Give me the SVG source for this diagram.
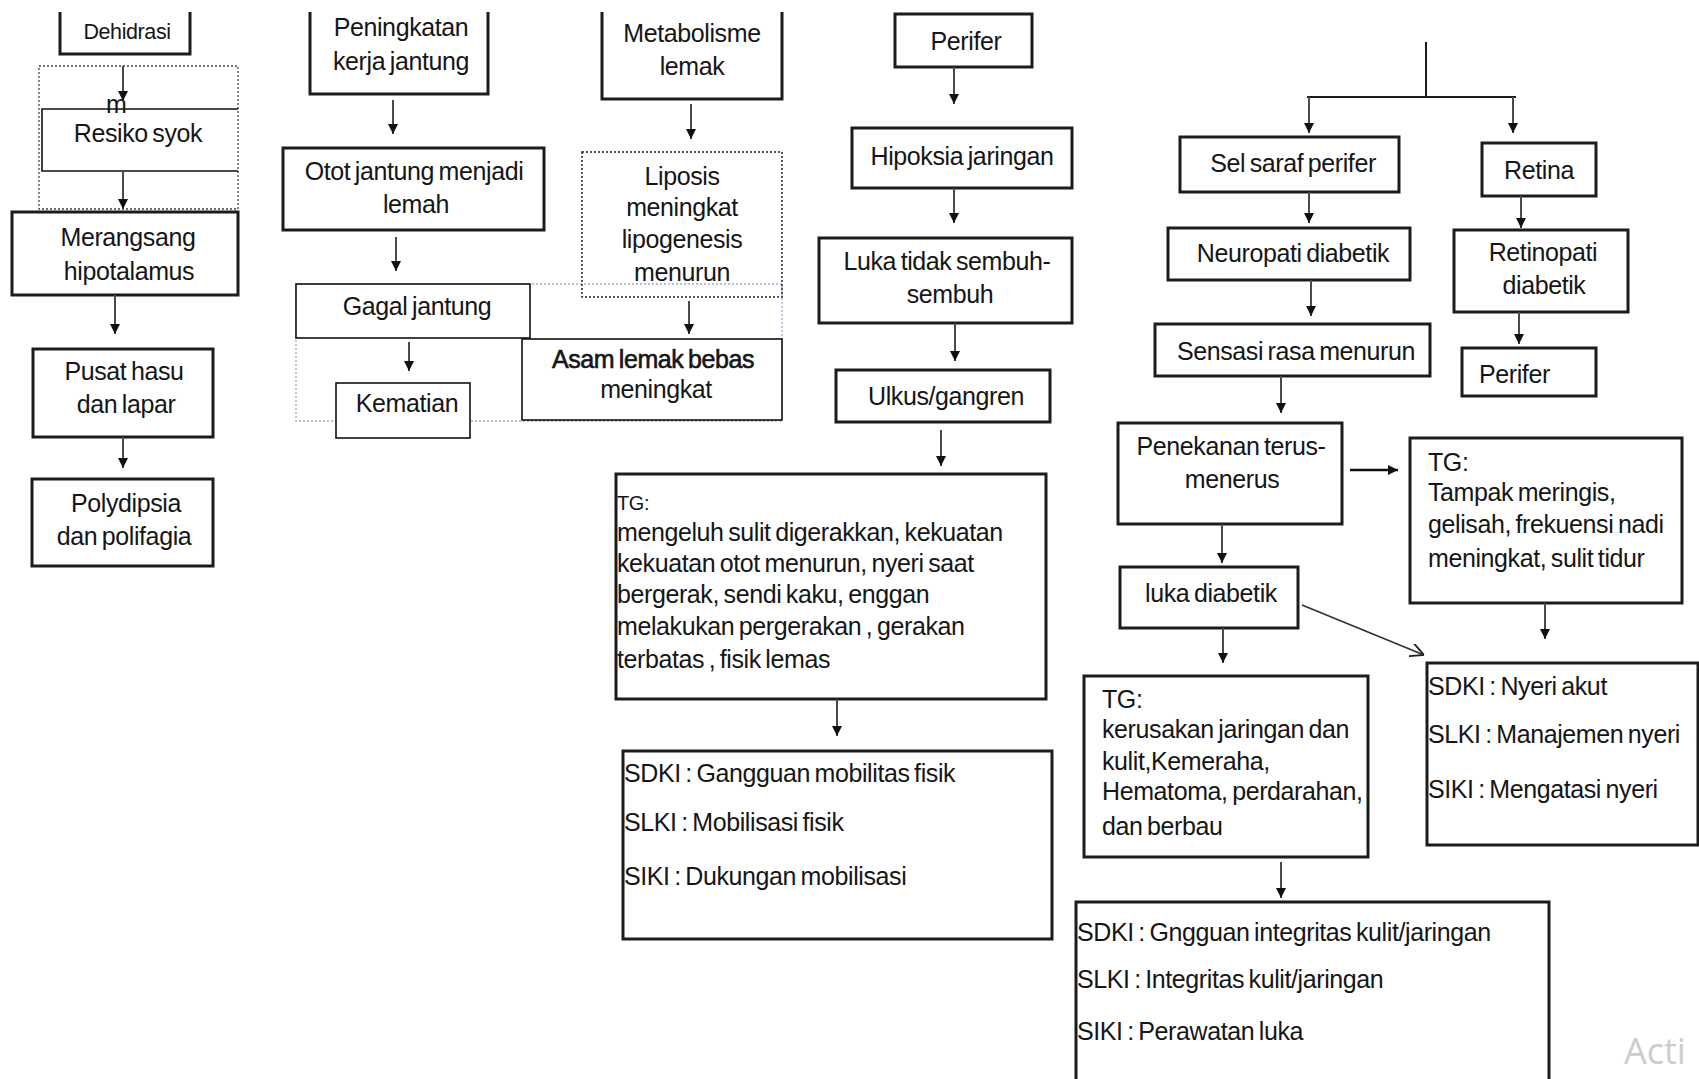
<svg xmlns="http://www.w3.org/2000/svg" width="1699" height="1079" viewBox="0 0 1699 1079">
<style>
.bx{fill:#fff;stroke:#1c1c1c;stroke-width:3}
.bo{fill:none;stroke:#1c1c1c;stroke-width:3}
.bt{fill:#fff;stroke:#111;stroke-width:1.6}
.btn{fill:none;stroke:#111;stroke-width:1.6}
.dot{fill:none;stroke:#444;stroke-width:1.3;stroke-dasharray:2 2}
.bdot{fill:none;stroke:#9aaccc;stroke-width:1.3;stroke-dasharray:2 2}
.t{font-family:"Liberation Sans",Arial,sans-serif;font-size:25px;fill:#161616;letter-spacing:-0.4px;word-spacing:-2px}
.c{text-anchor:middle}
.ar{stroke:#4a4a4a;stroke-width:2;fill:none;marker-end:url(#ah)}
.ln{stroke:#1c1c1c;stroke-width:2;fill:none}
</style>
<defs>
<marker id="ah" viewBox="0 0 10 10" refX="10" refY="5" markerWidth="11" markerHeight="10" markerUnits="userSpaceOnUse" orient="auto"><path d="M0,0 L10,5 L0,10 z" fill="#111"/></marker>
<marker id="oh" viewBox="0 0 12 12" refX="12" refY="6" markerWidth="14" markerHeight="14" markerUnits="userSpaceOnUse" orient="auto"><path d="M0,0 L12,6 L0,12" fill="none" stroke="#222" stroke-width="1.6"/></marker>
</defs>
<rect width="1699" height="1079" fill="#fff"/>

<g id="dehidrasi">
<path class="bo" d="M60,12 V54 H190 V12"/>
<text class="t c" x="127" y="39" style="font-size:21.5px">Dehidrasi</text>
</g>
<g id="resiko-syok">
<rect class="dot" x="39" y="66" width="199" height="143"/>
<path class="btn" d="M238,109 H42 V171 H238"/>
<text class="t" x="106" y="113">m</text>
<text class="t c" x="138" y="142">Resiko syok</text>
</g>
<g id="merangsang">
<rect class="bx" x="12" y="212" width="226" height="83"/>
<text class="t c" x="128" y="246">Merangsang</text>
<text class="t c" x="129" y="280">hipotalamus</text>
</g>
<g id="pusat-hasu">
<rect class="bx" x="33" y="349" width="180" height="88"/>
<text class="t c" x="124" y="380">Pusat hasu</text>
<text class="t c" x="126" y="413">dan lapar</text>
</g>
<g id="polydipsia">
<rect class="bx" x="32" y="479" width="181" height="87"/>
<text class="t c" x="126" y="512">Polydipsia</text>
<text class="t c" x="124" y="545">dan polifagia</text>
</g>

<g id="peningkatan">
<path class="bo" d="M310,12 V94 H488 V12"/>
<text class="t c" x="401" y="36">Peningkatan</text>
<text class="t c" x="401" y="70">kerja jantung</text>
</g>
<g id="otot-jantung">
<rect class="bx" x="283" y="148" width="261" height="82"/>
<text class="t c" x="414" y="180">Otot jantung menjadi</text>
<text class="t c" x="416" y="213">lemah</text>
</g>
<rect id="group-frame" class="bdot" x="296" y="284" width="486" height="137"/>
<g id="gagal-jantung">
<rect class="bt" x="296" y="284" width="234" height="54"/>
<text class="t c" x="417" y="315">Gagal jantung</text>
</g>
<g id="kematian">
<rect class="bt" x="336" y="383" width="134" height="55"/>
<text class="t c" x="407" y="412">Kematian</text>
</g>
<g id="metabolisme">
<path class="bo" d="M602,12 V99 H782 V12"/>
<text class="t c" x="692" y="42">Metabolisme</text>
<text class="t c" x="692" y="75">lemak</text>
</g>
<g id="liposis">
<rect x="582" y="152" width="200" height="145" fill="none" stroke="#222" stroke-width="1.5" stroke-dasharray="2 2"/>
<text class="t c" x="682" y="185">Liposis</text>
<text class="t c" x="682" y="216">meningkat</text>
<text class="t c" x="682" y="248">lipogenesis</text>
<text class="t c" x="682" y="281">menurun</text>
</g>
<g id="asam-lemak">
<rect class="bt" x="522" y="339" width="260" height="81"/>
<text class="t c" x="653" y="368" stroke="#161616" stroke-width="0.6">Asam lemak bebas</text>
<text class="t c" x="656" y="398">meningkat</text>
</g>

<g id="perifer">
<rect class="bx" x="895" y="14" width="137" height="53"/>
<text class="t c" x="966" y="50">Perifer</text>
</g>
<g id="hipoksia">
<rect class="bx" x="852" y="128" width="220" height="60"/>
<text class="t c" x="962" y="165">Hipoksia jaringan</text>
</g>
<g id="luka-tidak-sembuh">
<rect class="bx" x="819" y="238" width="253" height="85"/>
<text class="t c" x="947" y="270">Luka tidak sembuh-</text>
<text class="t c" x="950" y="303">sembuh</text>
</g>
<g id="ulkus">
<rect class="bx" x="836" y="370" width="214" height="52"/>
<text class="t c" x="946" y="405">Ulkus/gangren</text>
</g>
<g id="tg-mobilitas">
<rect class="bx" x="616" y="474" width="430" height="225"/>
<text class="t" x="617" y="510" style="font-size:20px">TG:</text>
<text class="t" x="617" y="541">mengeluh sulit digerakkan, kekuatan</text>
<text class="t" x="617" y="572">kekuatan otot menurun, nyeri saat</text>
<text class="t" x="617" y="603">bergerak, sendi kaku, enggan</text>
<text class="t" x="617" y="635">melakukan pergerakan , gerakan</text>
<text class="t" x="617" y="668">terbatas , fisik lemas</text>
</g>
<g id="sdki-mobilitas">
<rect class="bx" x="623" y="751" width="429" height="188"/>
<text class="t" x="624" y="782">SDKI : Gangguan mobilitas fisik</text>
<text class="t" x="624" y="831">SLKI : Mobilisasi fisik</text>
<text class="t" x="624" y="885">SIKI : Dukungan mobilisasi</text>
</g>

<g id="sel-saraf">
<rect class="bx" x="1180" y="137" width="219" height="55"/>
<text class="t c" x="1293" y="172">Sel saraf perifer</text>
</g>
<g id="neuropati">
<rect class="bx" x="1168" y="228" width="242" height="52"/>
<text class="t c" x="1293" y="262">Neuropati diabetik</text>
</g>
<g id="sensasi">
<rect class="bx" x="1155" y="324" width="275" height="52"/>
<text class="t c" x="1296" y="360">Sensasi rasa menurun</text>
</g>
<g id="retina">
<rect class="bx" x="1482" y="143" width="114" height="53"/>
<text class="t c" x="1539" y="179">Retina</text>
</g>
<g id="retinopati">
<rect class="bx" x="1454" y="230" width="174" height="82"/>
<text class="t c" x="1543" y="261">Retinopati</text>
<text class="t c" x="1544" y="294">diabetik</text>
</g>
<g id="perifer-2">
<rect class="bx" x="1462" y="348" width="134" height="48"/>
<text class="t" x="1479" y="383">Perifer</text>
</g>
<g id="penekanan">
<rect class="bx" x="1118" y="423" width="224" height="101"/>
<text class="t c" x="1231" y="455">Penekanan terus-</text>
<text class="t c" x="1232" y="488">menerus</text>
</g>
<g id="tg-nyeri">
<rect class="bx" x="1410" y="438" width="272" height="165"/>
<text class="t" x="1428" y="471">TG:</text>
<text class="t" x="1428" y="501">Tampak meringis,</text>
<text class="t" x="1428" y="533">gelisah, frekuensi nadi</text>
<text class="t" x="1428" y="567">meningkat, sulit tidur</text>
</g>
<g id="luka-diabetik">
<rect class="bx" x="1120" y="567" width="178" height="61"/>
<text class="t c" x="1211" y="602">luka diabetik</text>
</g>
<g id="tg-kulit">
<rect class="bx" x="1084" y="676" width="284" height="181"/>
<text class="t" x="1102" y="708">TG:</text>
<text class="t" x="1102" y="738">kerusakan jaringan dan</text>
<text class="t" x="1102" y="770">kulit,Kemeraha,</text>
<text class="t" x="1102" y="800">Hematoma, perdarahan,</text>
<text class="t" x="1102" y="835">dan berbau</text>
</g>
<g id="sdki-nyeri">
<rect class="bx" x="1427" y="663" width="271" height="182"/>
<text class="t" x="1428" y="695">SDKI : Nyeri akut</text>
<text class="t" x="1428" y="743">SLKI : Manajemen nyeri</text>
<text class="t" x="1428" y="798">SIKI : Mengatasi nyeri</text>
</g>
<g id="sdki-kulit">
<rect class="bx" x="1076" y="902" width="473" height="200"/>
<text class="t" x="1077" y="941">SDKI : Gngguan integritas kulit/jaringan</text>
<text class="t" x="1077" y="988">SLKI : Integritas kulit/jaringan</text>
<text class="t" x="1077" y="1040">SIKI : Perawatan luka</text>
</g>

<g id="connectors">
<line class="ar" x1="123" y1="66" x2="123" y2="101"/>
<line class="ar" x1="123" y1="171" x2="123" y2="209"/>
<line class="ar" x1="115" y1="295" x2="115" y2="334"/>
<line class="ar" x1="123" y1="437" x2="123" y2="468"/>
<line class="ar" x1="393" y1="100" x2="393" y2="134"/>
<line class="ar" x1="396" y1="237" x2="396" y2="271"/>
<line class="ar" x1="409" y1="342" x2="409" y2="371"/>
<line class="ar" x1="691" y1="104" x2="691" y2="139"/>
<line class="ar" x1="689" y1="301" x2="689" y2="334"/>
<line class="ar" x1="954" y1="67" x2="954" y2="104"/>
<line class="ar" x1="954" y1="188" x2="954" y2="223"/>
<line class="ar" x1="955" y1="323" x2="955" y2="361"/>
<line class="ar" x1="941" y1="430" x2="941" y2="466"/>
<line class="ar" x1="837" y1="699" x2="837" y2="736"/>
<path class="ln" d="M1426,42 V97 M1307,97 H1516"/>
<line class="ar" x1="1309" y1="97" x2="1309" y2="133"/>
<line class="ar" x1="1513" y1="97" x2="1513" y2="133"/>
<line class="ar" x1="1309" y1="192" x2="1309" y2="223"/>
<line class="ar" x1="1311" y1="280" x2="1311" y2="316"/>
<line class="ar" x1="1281" y1="376" x2="1281" y2="413"/>
<line class="ar" x1="1521" y1="196" x2="1521" y2="228"/>
<line class="ar" x1="1519" y1="312" x2="1519" y2="344"/>
<line class="ar" x1="1350" y1="470" x2="1398" y2="470" style="stroke:#111;stroke-width:2.5"/>
<line class="ar" x1="1222" y1="524" x2="1222" y2="563"/>
<line class="ar" x1="1223" y1="628" x2="1223" y2="663"/>
<line class="ar" x1="1545" y1="603" x2="1545" y2="639"/>
<line x1="1302" y1="605" x2="1424" y2="655" stroke="#333" stroke-width="1.8" marker-end="url(#oh)"/>
<line class="ar" x1="1281" y1="862" x2="1281" y2="898"/>
</g>

<text x="1624" y="1064" font-family="'Open Sans','Noto Sans',sans-serif" font-size="36" fill="#cdcdcd">Acti</text>
</svg>
